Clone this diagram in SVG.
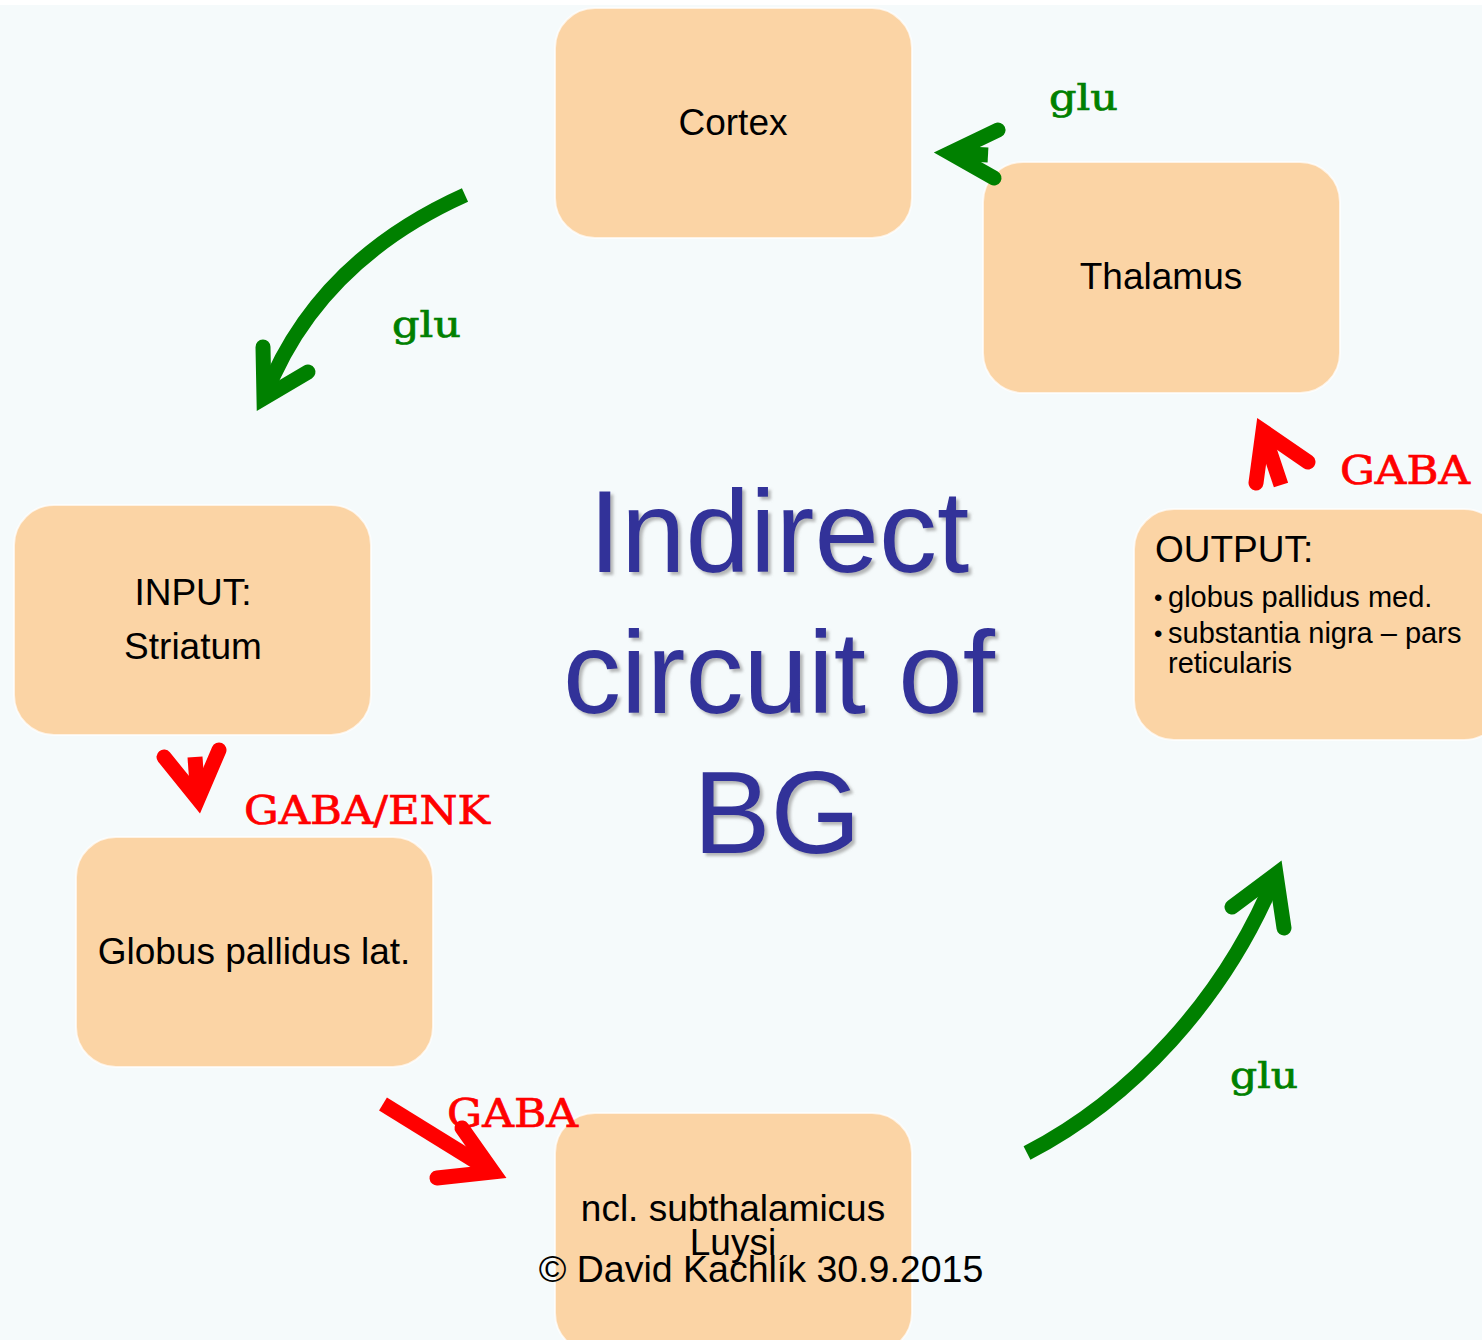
<svg xmlns="http://www.w3.org/2000/svg" width="1482" height="1340" viewBox="0 0 1482 1340">
<defs>
<style>
.box{fill:#FBD4A5;stroke:#FFFFFF;stroke-opacity:0.7;stroke-width:2}
.t{font-family:"Liberation Sans",Arial,sans-serif;fill:#000;font-size:37px}
.s{font-family:"Liberation Sans",Arial,sans-serif;fill:#000;font-size:29px}
.b{font-family:"Liberation Sans",Arial,sans-serif;fill:#000;font-size:24px}
.c{font-family:"Liberation Sans",Arial,sans-serif;fill:#000;font-size:37.5px}
.lab{font-family:"DejaVu Serif","Liberation Serif",serif;stroke-width:0.7}
.glu{fill:#008000;stroke:#008000;font-size:35px}
.gaba{fill:#FF0000;stroke:#FF0000;font-size:40px}
.g{stroke:#008000;fill:none;stroke-width:15}
.r{stroke:#FF0000;fill:none;stroke-width:15}
.head{stroke-linecap:round;stroke-linejoin:miter;stroke-miterlimit:10}
.title{font-family:"Liberation Sans",Arial,sans-serif;font-size:116px;fill:#333399;text-anchor:middle}
</style>
<filter id="sh" x="-10%" y="-10%" width="120%" height="120%">
<feDropShadow dx="3" dy="3" stdDeviation="1.5" flood-color="#888888" flood-opacity="0.6"/>
</filter>
</defs>
<rect x="0" y="0" width="1482" height="1340" fill="#FFFFFF"/>
<rect x="0" y="5" width="1482" height="1335" fill="#F5FAFB"/>

<g id="cortex"><rect class="box" x="555" y="8" width="357" height="230" rx="40"/><text class="t" x="733" y="135" text-anchor="middle">Cortex</text></g>
<g id="thalamus"><rect class="box" x="983" y="162" width="357" height="231" rx="40"/><text class="t" x="1161" y="289" text-anchor="middle">Thalamus</text></g>
<g id="striatum"><rect class="box" x="14" y="505" width="357" height="230" rx="40"/><text class="t" x="193" y="605" text-anchor="middle">INPUT:</text><text class="t" x="193" y="659" text-anchor="middle">Striatum</text></g>
<g id="output"><rect class="box" x="1134" y="509" width="370" height="231" rx="40"/>
<text class="t" x="1155" y="562">OUTPUT:</text>
<text class="b" x="1154" y="606">•</text><text class="s" x="1168" y="607">globus pallidus med.</text>
<text class="b" x="1154" y="642">•</text><text class="s" x="1168" y="643">substantia nigra – pars</text>
<text class="s" x="1168" y="673">reticularis</text></g>
<g id="gplat"><rect class="box" x="76" y="837" width="357" height="230" rx="40"/><text class="t" x="254" y="964" text-anchor="middle">Globus pallidus lat.</text></g>
<g id="stn"><rect class="box" x="555" y="1113" width="357" height="240" rx="40"/><text class="t" x="733" y="1221" text-anchor="middle">ncl. subthalamicus</text><text class="t" x="733" y="1255" text-anchor="middle">Luysi</text></g>

<g id="title" filter="url(#sh)">
<text class="title" x="779" y="572">Indirect</text>
<text class="title" x="779" y="713">circuit of</text>
<text class="title" x="777" y="853">BG</text>
</g>

<g id="labels">
<text class="lab glu" x="1049" y="110" textLength="69" lengthAdjust="spacingAndGlyphs">glu</text>
<text class="lab glu" x="392" y="337" textLength="69" lengthAdjust="spacingAndGlyphs">glu</text>
<text class="lab glu" x="1230" y="1088" textLength="68" lengthAdjust="spacingAndGlyphs">glu</text>
<text class="lab gaba" x="1340" y="484" textLength="130" lengthAdjust="spacingAndGlyphs">GABA</text>
<text class="lab gaba" x="244" y="824" textLength="246" lengthAdjust="spacingAndGlyphs">GABA/ENK</text>
<text class="lab gaba" x="447" y="1127" textLength="131" lengthAdjust="spacingAndGlyphs">GABA</text>
</g>

<g id="connectors">
<path class="g" d="M465,195 Q316,262 264,398"/>
<path class="g head" d="M263,347 L264,398 L308,372"/>
<path class="g" d="M988,155 L950,153"/>
<path class="g head" d="M998,130 L950,153 L994,178"/>
<path class="r" d="M1281,485 L1263,431"/>
<path class="r head" d="M1256,483 L1263,431 L1308,462"/>
<path class="r" d="M195,757 L198,799"/>
<path class="r head" d="M164,757 L198,799 L219,750"/>
<path class="r" d="M383,1104 L493,1172"/>
<path class="r head" d="M462,1128 L493,1172 L437,1178"/>
<path class="g" d="M1027,1153 C1130,1100 1225,1000 1276,874"/>
<path class="g head" d="M1232,907 L1276,874 L1284,928"/>
</g>

<text class="c" x="761" y="1282" text-anchor="middle">© David Kachlík 30.9.2015</text>
</svg>
